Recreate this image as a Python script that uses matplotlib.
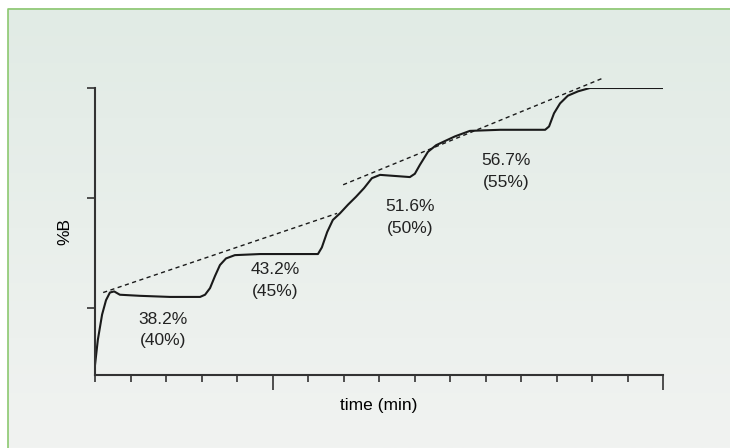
import numpy as np
import matplotlib.pyplot as plt
from matplotlib.colors import LinearSegmentedColormap
from matplotlib.lines import Line2D

# trace: time (tick units) and %B (axis tick units)
time = [0.0, 0.08, 0.2, 0.31, 0.42, 0.54, 0.7, 1.27, 2.11, 2.96, 3.1, 3.24, 3.38,
        3.52, 3.69, 3.94, 4.65, 5.49, 6.28, 6.39, 6.54, 6.7, 6.9, 7.13, 7.35,
        7.58, 7.8, 8.03, 8.45, 8.87, 9.01, 9.15, 9.38, 9.61, 9.94, 10.14, 10.56,
        11.41, 12.25, 12.68, 12.79, 12.93, 13.1, 13.32, 13.61, 13.94, 14.79, 16.0]
pct_b = [0.48, 0.71, 0.94, 1.07, 1.14, 1.15, 1.12, 1.11, 1.1, 1.1, 1.12, 1.18,
         1.29, 1.39, 1.45, 1.48, 1.49, 1.49, 1.49, 1.55, 1.69, 1.8, 1.86, 1.94,
         2.01, 2.09, 2.18, 2.21, 2.2, 2.19, 2.22, 2.3, 2.42, 2.48, 2.53, 2.56,
         2.61, 2.62, 2.62, 2.62, 2.65, 2.77, 2.86, 2.93, 2.97, 3.0, 3.0, 3.0]

trend1_t = [0.23, 6.82]
trend1_b = [1.14, 1.86]
trend2_t = [6.99, 14.31]
trend2_b = [2.12, 3.09]

labels = ["38.2%\n(40%)", "43.2%\n(45%)", "51.6%\n(50%)", "56.7%\n(55%)"]
label_t = [1.92, 5.07, 8.87, 11.58]
label_b = [0.80, 1.25, 1.82, 2.24]

fig = plt.figure(figsize=(7.3, 4.48), dpi=100)

# soft green-grey backdrop with a thin green edge at top/left
bg = fig.add_axes([0, 0, 1, 1], zorder=-1)
grad = np.linspace(0, 1, 256).reshape(-1, 1)
cmap = LinearSegmentedColormap.from_list('g', ['#f1f3f1', '#e1ebe5'])
bg.imshow(grad, aspect='auto', extent=[8/730, 1, 0, 1 - 9/448], cmap=cmap, origin='lower')
bg.add_line(Line2D([8/730, 8/730, 1], [0, 1 - 9/448, 1 - 9/448], color='#8cc870', lw=1.2))
bg.set_xlim(0, 1)
bg.set_ylim(0, 1)
bg.axis('off')

ax = fig.add_axes([95/730, 73/448, 568/730, 287/448])
ax.patch.set_alpha(0)
ax.plot(time, pct_b, color='#1a1a1a', lw=1.5)
ax.plot(trend1_t, trend1_b, ls=(0, (3, 2.5)), color='#1a1a1a', lw=1, clip_on=False)
ax.plot(trend2_t, trend2_b, ls=(0, (3, 2.5)), color='#1a1a1a', lw=1, clip_on=False)
for s, x, y in zip(labels, label_t, label_b):
    ax.text(x, y, s, ha='center', va='center', fontsize=12.5, color='#222222',
            family='Liberation Sans', linespacing=1.55)

ax.set_xlim(0, 16)
ax.set_ylim(0.39, 3.0)
ax.spines[['top', 'right']].set_visible(False)
for sp in ['left', 'bottom']:
    ax.spines[sp].set_linewidth(1.5)
    ax.spines[sp].set_color('#333333')
ax.set_xticks(np.arange(0, 17))
ax.set_xticklabels([])
ax.set_yticks([1, 2, 3])
ax.set_yticklabels([])
ax.tick_params(axis='x', length=5, width=1.2, color='#333333')
ax.tick_params(axis='y', length=6, width=1.2, color='#333333')
for i, t in enumerate(ax.xaxis.get_major_ticks()):
    if i in (5, 16):
        t.tick1line.set_markersize(11)
ax.set_xlabel("time (min)", fontsize=12.5, family='Liberation Sans', labelpad=8)
ax.set_ylabel("%B", fontsize=12.5, family='Liberation Sans', labelpad=7)

fig.savefig("out.png", dpi=100)
